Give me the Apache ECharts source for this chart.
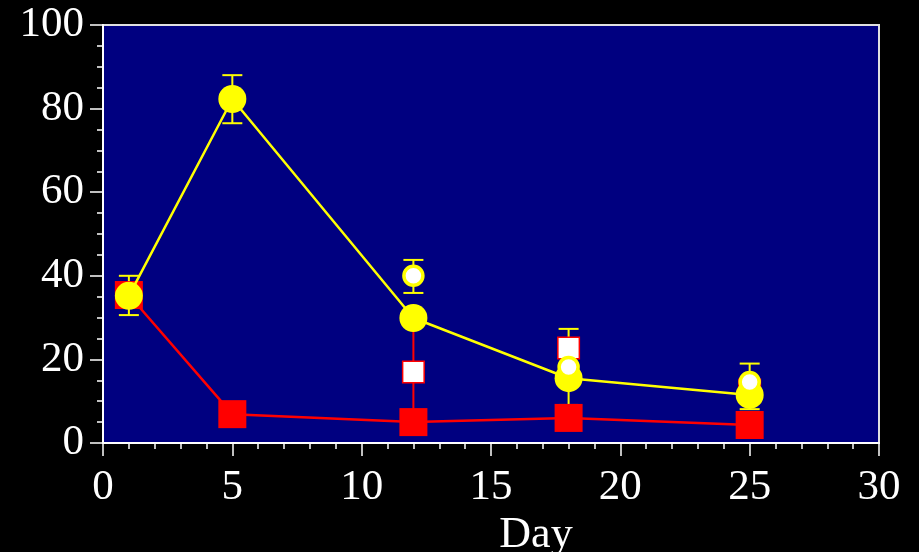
<!DOCTYPE html>
<html>
<head>
<meta charset="utf-8">
<script src="https://cdn.jsdelivr.net/npm/echarts@6/dist/echarts.min.js"></script>
<style>
html,body{margin:0;padding:0;background:#000;}
#chart{width:919px;height:552px;}
</style>
</head>
<body>
<div id="chart"></div>
<script>
// ---- data ----
const xTicks = [0, 5, 10, 15, 20, 25, 30];
const yTicks = [0, 20, 40, 60, 80, 100];
const days = [1, 5, 12, 18, 25];
const filledCircle = [35.2, 82.3, 29.9, 15.5, 11.5];
const filledCircleLow = [30.6, 76.5, null, null, null];
const filledCircleHigh = [40.0, 88.0, null, null, null];
const filledSquare = [35.4, 6.9, 5.0, 6.0, 4.3];
const openDays = [12, 18, 25];
const openCircle = [40.0, 18.2, 14.6];
const openCircleLow = [35.9, 9.1, 8.1];
const openCircleHigh = [43.8, 27.3, 19.0];
const openSquare = [17.0, 22.7, 12.7];
const openSquareLow = [5.5, null, null];
const openSquareHigh = [30.0, null, null];
const xTitle = 'Day';

// ---- build ----
function pairs(xs, ys) { return xs.map((x, i) => [x, ys[i]]); }
function errData(xs, lo, hi) {
  const out = [];
  xs.forEach((x, i) => { if (lo[i] != null && hi[i] != null) out.push([x, lo[i], hi[i]]); });
  return out;
}
function errSeries(data, color) {
  return {
    type: 'custom', z: 1, silent: true,
    data: data,
    encode: { x: 0, y: [1, 2] },
    renderItem: function (params, api) {
      const x = api.value(0), lo = api.value(1), hi = api.value(2);
      const pH = api.coord([x, hi]), pL = api.coord([x, lo]);
      const hw = 10;
      const st = { stroke: color, lineWidth: 2 };
      return {
        type: 'group',
        children: [
          { type: 'line', shape: { x1: pH[0], y1: pH[1], x2: pL[0], y2: pL[1] }, style: st },
          { type: 'line', shape: { x1: pH[0] - hw, y1: pH[1], x2: pH[0] + hw, y2: pH[1] }, style: st },
          { type: 'line', shape: { x1: pL[0] - hw, y1: pL[1], x2: pL[0] + hw, y2: pL[1] }, style: st }
        ]
      };
    }
  };
}

const FONT = 'Liberation Serif';
const chart = echarts.init(document.getElementById('chart'), null, { renderer: 'canvas' });
chart.setOption({
  backgroundColor: '#000000',
  animation: false,
  grid: {
    left: 103, right: 40, top: 25, bottom: 109,
    containLabel: false, outerBoundsMode: 'none',
    show: true, backgroundColor: '#000080',
    borderColor: '#e0e0e0', borderWidth: 2
  },
  xAxis: {
    type: 'value', min: xTicks[0], max: xTicks[xTicks.length - 1], interval: 5,
    name: xTitle, nameLocation: 'middle', nameGap: 62,
    nameTextStyle: { color: '#fff', fontFamily: FONT, fontSize: 44, padding: [0, 0, 0, 90] },
    axisLine: { show: true, lineStyle: { color: '#fff', width: 2 } },
    axisTick: { show: true, inside: false, length: 13, lineStyle: { color: '#fff', width: 1.5 } },
    minorTick: { show: true, splitNumber: 5, length: 6, lineStyle: { color: '#fff', width: 1.5 } },
    splitLine: { show: false },
    axisLabel: { color: '#fff', fontFamily: FONT, fontSize: 43, margin: 23 }
  },
  yAxis: {
    type: 'value', min: yTicks[0], max: yTicks[yTicks.length - 1], interval: 20,
    axisLine: { show: true, lineStyle: { color: '#fff', width: 2 } },
    axisTick: { show: true, inside: false, length: 13, lineStyle: { color: '#fff', width: 1.5 } },
    minorTick: { show: true, splitNumber: 4, length: 6, lineStyle: { color: '#fff', width: 1.5 } },
    splitLine: { show: false },
    axisLabel: { color: '#fff', fontFamily: FONT, fontSize: 43, margin: 19 }
  },
  series: [
    errSeries(errData(days, filledCircleLow, filledCircleHigh), '#ffff00'),
    errSeries(errData(openDays, openCircleLow, openCircleHigh), '#ffff00'),
    errSeries(errData(openDays, openSquareLow, openSquareHigh), '#ff0000'),
    {
      type: 'line', z: 2, data: pairs(days, filledSquare),
      symbol: 'rect', symbolSize: 28, showSymbol: true,
      lineStyle: { color: '#ff0000', width: 2.5 },
      itemStyle: { color: '#ff0000' }
    },
    {
      type: 'scatter', z: 3, data: pairs(openDays, openSquare),
      symbol: 'rect', symbolSize: 21.5,
      itemStyle: { color: '#ffffff', borderColor: '#ff0000', borderWidth: 1.5, opacity: 1 }
    },
    {
      type: 'line', z: 4, data: pairs(days, filledCircle),
      symbol: 'circle', symbolSize: 28, showSymbol: true,
      lineStyle: { color: '#ffff00', width: 2.5 },
      itemStyle: { color: '#ffff00' }
    },
    {
      type: 'scatter', z: 5, data: pairs(openDays, openCircle),
      symbol: 'circle', symbolSize: 19,
      itemStyle: { color: '#ffffff', borderColor: '#ffff00', borderWidth: 3.5, opacity: 1 }
    }
  ]
});
</script>
</body>
</html>
